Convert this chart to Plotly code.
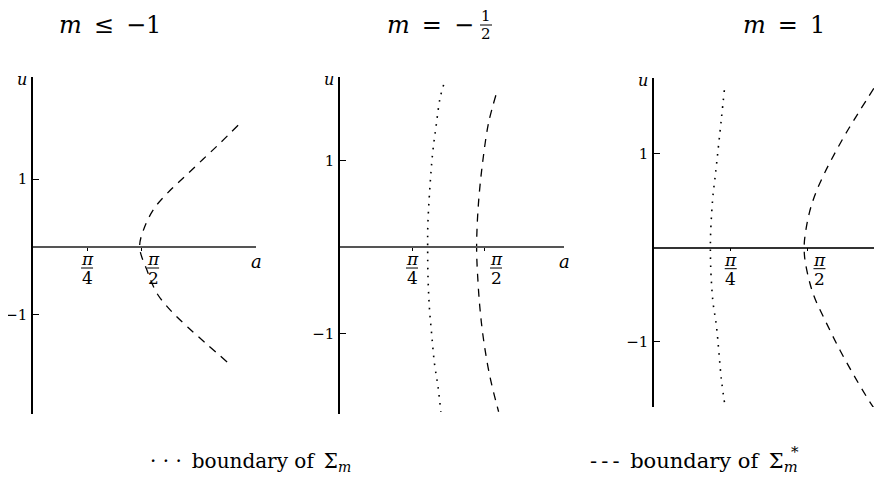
import math
import plotly.graph_objects as go

# page has an 8px body margin: figure is drawn from window pixel (8, 8)
OFF = 8
W, H = 882 - OFF, 483 - OFF
PI = math.pi

def fx(px):
    return (px - OFF) / W

def fy(py):
    return 1 - (py - OFF) / H

# ---- data ----
a_tick_vals = [PI / 4, PI / 2]
a_tick_den = ["4", "2"]
u_tick_vals = [-1, 1]
u_tick_text = ["\u22121", "1"]

# panel 1 : m <= -1  (boundary of Sigma*_m, dashed)
p1_dash_a = [2.98, 2.72, 2.47, 2.23, 1.99, 1.77, 1.62, 1.55, 1.667, 1.80, 2.006, 2.25, 2.515, 2.82]
p1_dash_u = [1.79, 1.53, 1.29, 1.06, 0.83, 0.58, 0.29, 0.0, -0.37, -0.68, -0.94, -1.18, -1.42, -1.69]

# panel 2 : m = -1/2
p2_dot_a = [1.13, 1.09, 1.05, 1.01, 0.975, 0.958, 0.956, 0.96, 0.975, 1.00, 1.03, 1.07, 1.10]
p2_dot_u = [1.87, 1.71, 1.41, 1.08, 0.60, 0.25, 0.0, -0.35, -0.70, -1.01, -1.34, -1.62, -1.90]
p2_dash_a = [1.70, 1.62, 1.556, 1.51, 1.49, 1.505, 1.53, 1.57, 1.636, 1.73]
p2_dash_u = [1.75, 1.43, 0.98, 0.50, 0.0, -0.40, -0.75, -1.10, -1.50, -1.90]

# panel 3 : m = 1
p3_dot_a = [0.72, 0.69, 0.63, 0.60, 0.577, 0.60, 0.64, 0.69, 0.73]
p3_dot_u = [1.67, 1.37, 0.79, 0.51, 0.0, -0.54, -0.84, -1.40, -1.70]
p3_dash_a = [2.25, 2.11, 1.98, 1.86, 1.75, 1.655, 1.59, 1.545, 1.537, 1.548, 1.627, 1.765, 1.905, 2.055, 2.205, 2.25]
p3_dash_u = [1.69, 1.46, 1.24, 1.02, 0.80, 0.58, 0.37, 0.12, 0.0, -0.15, -0.484, -0.80, -1.09, -1.37, -1.63, -1.70]

# ---- layout geometry (window pixels) ----
panels = [
    dict(px=(33, 256), py=(77, 414), xr=[0, 3.24], yr=[-2.456, 2.50], hcol="#555555", hw=2.0),
    dict(px=(340, 564), py=(77, 414), xr=[0, 2.443], yr=[-1.926, 1.961], hcol="#555555", hw=2.0),
    dict(px=(654, 879), py=(78, 407), xr=[0, 2.303], yr=[-1.69, 1.80], hcol="#333333", hw=1.6),
]

SERIF = "DejaVu Serif"
fig = go.Figure()

DASH = "8px,7px"
DOT = "1.6px,6.4px"

traces = [
    (1, p1_dash_a, p1_dash_u, DASH),
    (2, p2_dot_a, p2_dot_u, DOT),
    (2, p2_dash_a, p2_dash_u, DASH),
    (3, p3_dot_a, p3_dot_u, DOT),
    (3, p3_dash_a, p3_dash_u, DASH),
]
for k, a, u, d in traces:
    sfx = "" if k == 1 else str(k)
    fig.add_trace(go.Scatter(
        x=a, y=u, mode="lines", xaxis="x" + sfx, yaxis="y" + sfx,
        line=dict(color="black", width=1.3 if d == DASH else 1.6, dash=d, shape="spline", smoothing=1.0),
        hoverinfo="skip", showlegend=False, cliponaxis=False))

annotations = []
shapes = []
layout = dict(width=W, height=H, autosize=False, margin=dict(l=0, r=0, t=0, b=0, pad=0, autoexpand=False),
              paper_bgcolor="white", plot_bgcolor="white", showlegend=False,
              font=dict(family=SERIF, color="black", size=17))

for i, p in enumerate(panels):
    k = i + 1
    sfx = "" if k == 1 else str(k)
    xd = [fx(p["px"][0]), fx(p["px"][1])]
    yd = [fy(p["py"][1]), fy(p["py"][0])]
    y0pos = yd[0] + (0 - p["yr"][0]) / (p["yr"][1] - p["yr"][0]) * (yd[1] - yd[0])
    layout["xaxis" + sfx] = dict(
        domain=xd, range=p["xr"], anchor="free", position=y0pos, automargin=False,
        showline=True, linecolor=p["hcol"], linewidth=p["hw"],
        tickvals=a_tick_vals, ticks="outside", ticklen=3, tickwidth=1.2, tickcolor="black",
        showticklabels=False, showgrid=False, zeroline=False, fixedrange=True)
    layout["yaxis" + sfx] = dict(
        domain=yd, range=p["yr"], anchor="x" + sfx, automargin=False,
        showline=True, linecolor="black", linewidth=1.5,
        tickvals=u_tick_vals, ticktext=u_tick_text, ticks="inside", ticklen=6, tickwidth=1.2,
        tickcolor="black", tickfont=dict(family=SERIF, size=15, color="black"),
        ticklabelstandoff=1,
        showgrid=False, zeroline=False, fixedrange=True)
    xr, yr = "x" + sfx, "y" + sfx
    # fraction tick labels pi/4, pi/2
    for tv, den, xs in zip(a_tick_vals, a_tick_den, [0, 12]):
        annotations.append(dict(x=tv, y=0, xref=xr, yref=yr, text="<i>\u03c0</i>", showarrow=False,
                                xanchor="center", yanchor="middle",
                                xshift=xs, yshift=-12, font=dict(family=SERIF, size=17)))
        annotations.append(dict(x=tv, y=0, xref=xr, yref=yr, text=den, showarrow=False,
                                xanchor="center", yanchor="middle",
                                xshift=xs, yshift=-31, font=dict(family=SERIF, size=17)))
        shapes.append(dict(type="line", xref=xr, yref=yr, xsizemode="pixel", ysizemode="pixel",
                           xanchor=tv, yanchor=0, x0=xs - 6, x1=xs + 6, y0=-21, y1=-21,
                           line=dict(color="black", width=1)))
    # axis names
    annotations.append(dict(x=0, y=p["yr"][1], xref=xr, yref=yr, text="<i>u</i>", showarrow=False,
                            xanchor="center", yanchor="middle",
                            xshift=-11, yshift=-2, font=dict(family=SERIF, size=16)))
    annotations.append(dict(x=p["xr"][1], y=0, xref=xr, yref=yr, text="<i>a</i>", showarrow=False,
                            xanchor="center", yanchor="middle",
                            xshift=0, yshift=-14, font=dict(family=SERIF, size=18)))

def pa(x, y, text, font, xanchor="center"):
    return dict(x=fx(x), y=fy(y), xref="paper", yref="paper", showarrow=False,
                xanchor=xanchor, yanchor="middle", text=text, font=font)

# titles
TF = dict(family=SERIF, size=24, color="black")
annotations.append(pa(110, 25, "<i>m</i>\u2002\u2264\u2002\u22121", TF))
annotations.append(pa(476, 25, "<i>m</i>\u2002=\u2002\u2212", TF, xanchor="right"))
annotations.append(pa(486, 16, "1", dict(family=SERIF, size=15)))
annotations.append(pa(486, 34, "2", dict(family=SERIF, size=15)))
shapes.append(dict(type="line", xref="paper", yref="paper", x0=fx(480), x1=fx(492),
                   y0=fy(25), y1=fy(25), line=dict(color="black", width=1)))
annotations.append(pa(784, 25, "<i>m</i>\u2002=\u20021", TF))

# legend text
LF = dict(family=SERIF, size=20, color="black")
annotations.append(pa(148, 462,
                      "\u00b7 \u00b7 \u00b7\u2002boundary of\u2002\u03a3<sub><i>m</i></sub>",
                      LF, xanchor="left"))
annotations.append(pa(800, 462, "-\u2009-\u2009-\u2002boundary of\u2002\u03a3<sub><i>m</i></sub>",
                      dict(family=SERIF, size=21, color="black"), xanchor="right"))
annotations.append(pa(801, 452, "*", dict(family=SERIF, size=15), xanchor="right"))

layout["annotations"] = annotations
layout["shapes"] = shapes
fig.update_layout(**layout)
fig.write_html("out.html")
